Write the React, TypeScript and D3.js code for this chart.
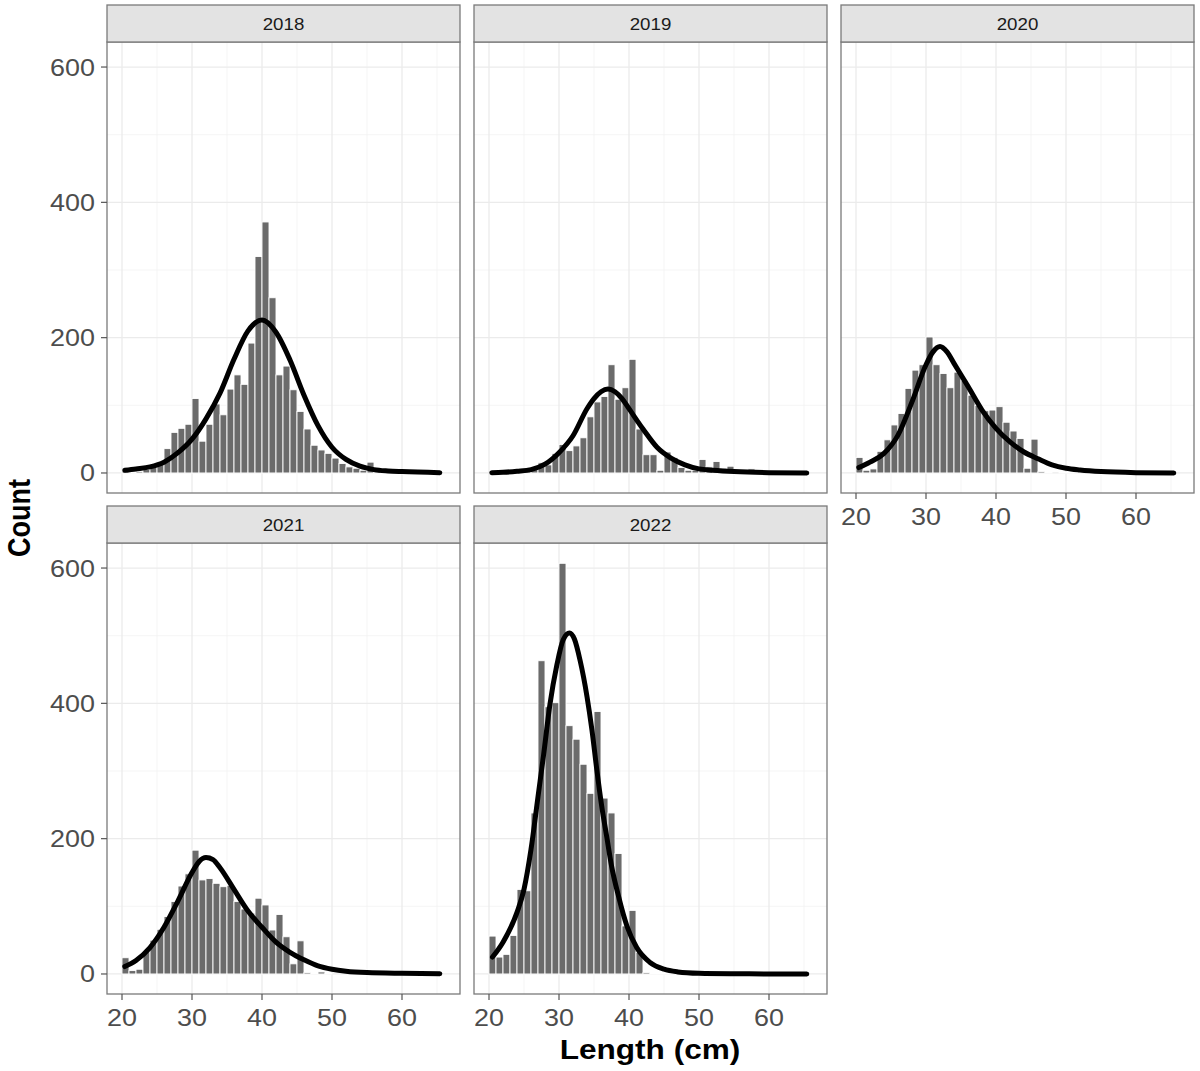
import React from "react";
import * as d3 from "d3";

// ---------- data ----------
const years = ["2018", "2019", "2020", "2021", "2022"];
const binStart = 20;
const binWidth = 1;
const xTicks = [20, 30, 40, 50, 60];
const xMinor = [25, 35, 45, 55, 65];
const yTicks = [0, 200, 400, 600];
const yMinor = [100, 300, 500];

const counts2018 = [3, 1, 2, 5, 9, 14, 36, 60, 66, 72, 110, 47, 72, 102, 86, 124, 145, 131, 192, 320, 371, 259, 145, 158, 123, 91, 65, 41, 34, 29, 22, 14, 9, 7, 4, 16, 3, 2, 1, 1];
const counts2019 = [0, 0, 1, 1, 2, 3, 7, 15, 12, 29, 42, 33, 40, 52, 83, 105, 113, 160, 109, 126, 168, 65, 27, 27, 4, 31, 23, 8, 4, 4, 20, 9, 17, 7, 10, 4, 2, 6, 1];
const counts2020 = [23, 4, 6, 32, 49, 71, 88, 125, 152, 160, 201, 160, 147, 126, 149, 137, 115, 100, 92, 93, 98, 75, 62, 51, 7, 50, 2, 1, 0, 1, 1, 1];
const counts2021 = [24, 5, 7, 33, 50, 66, 85, 107, 130, 148, 183, 139, 141, 134, 129, 131, 107, 96, 90, 112, 102, 65, 88, 55, 15, 49, 2, 1, 3, 1];
const counts2022 = [56, 25, 29, 57, 125, 123, 238, 463, 395, 401, 607, 367, 347, 310, 267, 388, 260, 238, 178, 71, 94, 32, 2, 1, 1, 1];

const fit2018: [number, number][] = [[20.4, 4], [22, 6], [24, 9], [26, 16], [28, 30], [30, 50], [32, 80], [34, 118], [36, 168], [38, 210], [40, 226], [42, 208], [44, 167], [46, 115], [48, 70], [50, 38], [52, 20], [54, 10], [56, 5], [58, 3], [60, 2], [65.4, 0.5]];
const fit2019: [number, number][] = [[20.4, 0.5], [22, 1], [24, 2.5], [26, 5], [28, 13], [30, 30], [32, 55], [34, 95], [35, 110], [36, 120], [37, 124], [38, 120], [39, 110], [40, 95], [42, 65], [44, 38], [46, 22], [48, 12], [50, 6], [52, 4], [55, 2], [60, 0.5], [65.4, 0.1]];
const fit2020: [number, number][] = [[20.4, 8], [22, 16], [24, 29], [26, 56], [28, 105], [30, 160], [31, 179], [32, 187], [33, 179], [34, 162], [36, 128], [38, 93], [40, 66], [42, 46], [44, 31], [46, 21], [48, 12], [50, 7], [52, 4.4], [55, 2], [60, 0.5], [65.4, 0.1]];
const fit2021: [number, number][] = [[20.4, 11], [22, 20], [24, 39], [26, 69], [28, 108], [30, 150], [31, 166], [32, 172], [33, 169], [34, 157], [36, 125], [38, 93], [40, 69], [42, 47], [44, 32], [46, 21], [48, 12], [50, 7], [52, 4], [55, 2], [60, 1], [65.4, 0.5]];
const fit2022: [number, number][] = [[20.5, 25], [22, 47], [24, 91], [25, 125], [26, 184], [27, 262], [27.8, 324], [28.7, 398], [29.7, 457], [30.6, 494], [31.5, 504], [32.2, 495], [33, 464], [34, 410], [34.7, 361], [35.4, 302], [36.1, 248], [36.8, 204], [37.5, 160], [38.5, 115], [39.7, 71], [41.1, 39], [43, 17], [45, 7], [47, 3], [50, 1], [55, 0.3], [60, 0.1], [65.4, 0]];

const countsByYear = [counts2018, counts2019, counts2020, counts2021, counts2022];
const fitsByYear = [fit2018, fit2019, fit2020, fit2021, fit2022];

// ---------- layout ----------
const W = 1200;
const H = 1071;
const PW = 353;
const PH = 451;
const STRIP = 37;
const colX = [107, 474, 841];
const rowY = [42, 543];
const FONT = "'Liberation Sans', Arial, Helvetica, sans-serif";
const SX = 1.17;

const xs = d3.scaleLinear().domain([17.857, 68.286]).range([0, PW]);
const ys = d3.scaleLinear().domain([-29.6, 637]).range([PH, 0]);

function T(props: { x: number; y: number; size: number; anchor?: string; weight?: string; fill?: string; rotate?: number; children: any }) {
  const { x, y, size, anchor = "middle", weight = "normal", fill = "#4d4d4d", rotate = 0, children } = props;
  return (
    <text
      transform={`translate(${x},${y}) scale(${SX},1) rotate(${rotate})`}
      fontSize={size}
      fontFamily={FONT}
      fontWeight={weight}
      textAnchor={anchor}
      fill={fill}
    >
      {children}
    </text>
  );
}

function Panel(props: { idx: number }) {
  const { idx } = props;
  const col = idx % 3;
  const row = Math.floor(idx / 3);
  const x0 = colX[col];
  const y0 = rowY[row];
  const counts = countsByYear[idx];
  const fit = fitsByYear[idx];
  const line = d3
    .line<[number, number]>()
    .x((d) => xs(d[0]))
    .y((d) => ys(d[1]))
    .curve(d3.curveMonotoneX);
  const showY = col === 0;
  const showX = row === 1 || idx === 2;
  return (
    <g>
      <g transform={`translate(${x0},${y0})`}>
        <rect x={0} y={0} width={PW} height={PH} fill="#ffffff" />
        {xMinor.map((v) => (
          <line key={"xm" + v} x1={xs(v)} x2={xs(v)} y1={0} y2={PH} stroke="#f2f2f2" strokeWidth={0.8} />
        ))}
        {yMinor.map((v) => (
          <line key={"ym" + v} x1={0} x2={PW} y1={ys(v)} y2={ys(v)} stroke="#f2f2f2" strokeWidth={0.8} />
        ))}
        {xTicks.map((v) => (
          <line key={"xg" + v} x1={xs(v)} x2={xs(v)} y1={0} y2={PH} stroke="#ebebeb" strokeWidth={1.3} />
        ))}
        {yTicks.map((v) => (
          <line key={"yg" + v} x1={0} x2={PW} y1={ys(v)} y2={ys(v)} stroke="#ebebeb" strokeWidth={1.3} />
        ))}
        {counts.map((c, i) => {
          if (c <= 0) return null;
          const b0 = binStart + i * binWidth;
          const xa = xs(b0);
          const xb = xs(b0 + binWidth);
          return (
            <rect
              key={"b" + i}
              x={xa}
              width={xb - xa}
              y={ys(c)}
              height={ys(0) - ys(c)}
              fill="#6b6b6b"
              stroke="#ffffff"
              strokeWidth={0.9}
            />
          );
        })}
        <path d={line(fit) || ""} fill="none" stroke="#000000" strokeWidth={5} strokeLinejoin="round" strokeLinecap="round" />
        <rect x={0} y={0} width={PW} height={PH} fill="none" stroke="#7a7a7a" strokeWidth={1.3} />
        <rect x={0} y={-STRIP} width={PW} height={STRIP} fill="#e3e3e3" stroke="#7a7a7a" strokeWidth={1.3} />
        <T x={PW / 2} y={-STRIP / 2 + 6} size={16} fill="#1a1a1a">
          {years[idx]}
        </T>
        {showY &&
          yTicks.map((v) => (
            <g key={"yt" + v}>
              <line x1={-6} x2={0} y1={ys(v)} y2={ys(v)} stroke="#555" strokeWidth={1.2} />
              <T x={-12} y={ys(v) + 8.5} size={23} anchor="end">
                {v}
              </T>
            </g>
          ))}
        {showX &&
          xTicks.map((v) => (
            <g key={"xt" + v}>
              <line x1={xs(v)} x2={xs(v)} y1={PH} y2={PH + 6} stroke="#555" strokeWidth={1.2} />
              <T x={xs(v)} y={PH + 32} size={23}>
                {v}
              </T>
            </g>
          ))}
      </g>
    </g>
  );
}

export default function App() {
  return (
    <svg
      width={W}
      height={H}
      viewBox={`0 0 ${W} ${H}`}
      style={{ position: "absolute", left: 0, top: 0, background: "#ffffff" }}
    >
      <rect x={0} y={0} width={W} height={H} fill="#ffffff" />
      {years.map((y, i) => (
        <Panel key={y} idx={i} />
      ))}
      <T x={650} y={1059} size={27} weight="bold" fill="#000000">
        Length (cm)
      </T>
      <T x={30} y={518} size={27} weight="bold" fill="#000000" rotate={-90}>
        Count
      </T>
    </svg>
  );
}
